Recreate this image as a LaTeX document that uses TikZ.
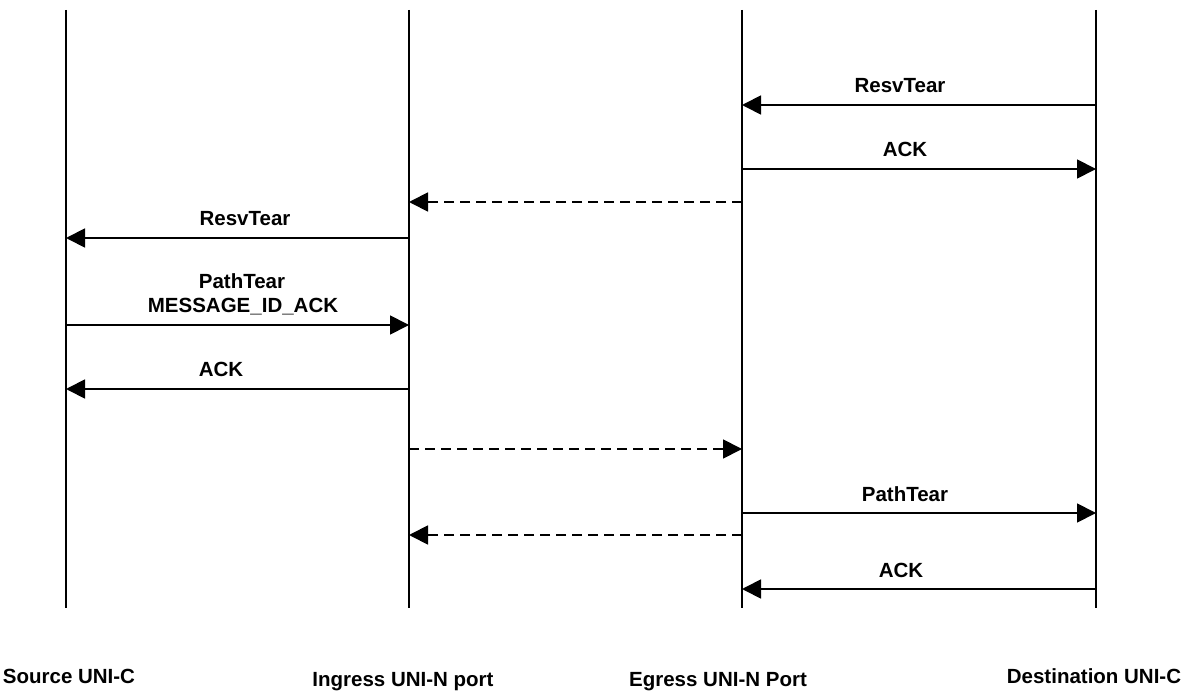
\documentclass[tikz,border=0pt]{standalone}
\usepackage{fontspec}
\setmainfont{Liberation Sans}
\usetikzlibrary{arrows.meta}
\begin{document}
\begin{tikzpicture}[x=1pt,y=-1pt,
  lifeline/.style={line width=1.5pt},
  msg/.style={line width=1.8pt,-{Triangle[length=19pt,width=19pt]}},
  dmsg/.style={msg,dash pattern=on 10pt off 6pt},
  lbl/.style={font=\fontsize{20.5}{24}\selectfont\bfseries,inner sep=0pt,anchor=base},
  every node/.style={}]
\useasboundingbox (0,0) rectangle (1191,692);
% lifelines
\coordinate (sT) at (66,10);   \coordinate (sB) at (66,608);
\coordinate (iT) at (409,10);  \coordinate (iB) at (409,608);
\coordinate (eT) at (742,10);  \coordinate (eB) at (742,608);
\coordinate (dT) at (1096,10); \coordinate (dB) at (1096,608);
\draw[lifeline] (sT) -- (sB);
\draw[lifeline] (iT) -- (iB);
\draw[lifeline] (eT) -- (eB);
\draw[lifeline] (dT) -- (dB);
% messages
\draw[msg] (dT |- 0,105) -- (eT |- 0,105);
\node[lbl] (l1) at (900,93) {ResvTear};
\draw[msg] (eT |- 0,169) -- (dT |- 0,169);
\node[lbl] (l2) at (905,157) {ACK};
\draw[dmsg] (eT |- 0,202) -- (iT |- 0,202);
\draw[msg] (iT |- 0,238) -- (sT |- 0,238);
\node[lbl] (l3) at (245,226) {ResvTear};
\draw[msg] (sT |- 0,325) -- (iT |- 0,325);
\node[lbl] (l4) at (242,289) {PathTear};
\node[lbl] (l5) at (243,313) {MESSAGE\_ID\_ACK};
\draw[msg] (iT |- 0,389) -- (sT |- 0,389);
\node[lbl] (l6) at (221,377) {ACK};
\draw[dmsg] (iT |- 0,449) -- (eT |- 0,449);
\draw[msg] (eT |- 0,513) -- (dT |- 0,513);
\node[lbl] (l7) at (905,501) {PathTear};
\draw[dmsg] (eT |- 0,535) -- (iT |- 0,535);
\draw[msg] (dT |- 0,589) -- (eT |- 0,589);
\node[lbl] (l8) at (901,577) {ACK};
% participant labels
\node[lbl] (ps) at (69,683) {Source UNI-C};
\node[lbl] (pi) at (403,686) {Ingress UNI-N port};
\node[lbl] (pe) at (718,686) {Egress UNI-N Port};
\node[lbl] (pd) at (1094,683) {Destination UNI-C};
\end{tikzpicture}
\end{document}
